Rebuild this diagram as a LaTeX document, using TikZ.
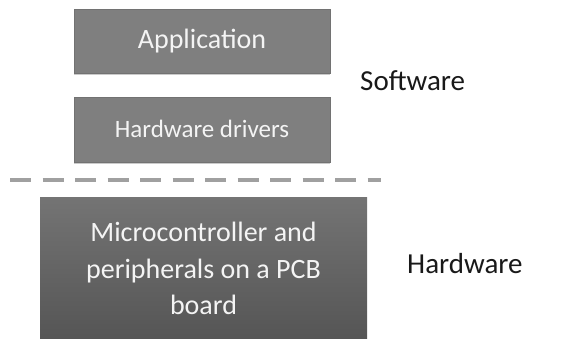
\documentclass[tikz,border=0pt]{standalone}
\usepackage{fontspec}
\setmainfont{Carlito}
\usetikzlibrary{shadows}
\definecolor{boxgray}{HTML}{7F7F7F}
\definecolor{dashgray}{HTML}{A0A0A0}
\definecolor{txtwhite}{HTML}{F4F4F4}
\definecolor{hwtop}{HTML}{747474}
\definecolor{hwbot}{HTML}{555555}
\tikzset{
  swbox/.style={rectangle, fill=boxgray, draw=boxgray!90!black, line width=0.4pt,
    minimum width=256pt, inner sep=0pt, text=txtwhite,
    drop shadow={shadow xshift=0pt, shadow yshift=-2pt, opacity=0.35, fill=black!60}},
  hwbox/.style={rectangle, top color=hwtop, bottom color=hwbot, draw=none,
    minimum width=327pt, inner sep=0pt, text=txtwhite, align=center},
  lbl/.style={text=black!90, font=\fontsize{29}{34}\selectfont, inner sep=0pt},
  sep/.style={dashgray, line width=4pt, dash pattern=on 21pt off 11.5pt}
}
\begin{document}
\begin{tikzpicture}[x=1pt,y=-1pt]
\useasboundingbox (0,0) rectangle (569,338);
\node[swbox, minimum height=64pt, font=\fontsize{28}{33}\selectfont] (app) at (202,41.3) {Application};
\node[swbox, minimum height=65pt, font=\fontsize{25}{30}\selectfont] (drv) at (202,129.2) {Hardware drivers};
\coordinate (d1) at (10,180);
\coordinate (d2) at (381,180);
\draw[sep] (d1) -- (d2);
\node[hwbox, minimum height=143pt, font=\fontsize{28}{36.3}\selectfont] (mcu) at (203.5,268.5)
  {Microcontroller and\\peripherals on a PCB\\board};
\node[lbl, anchor=base west] (sw) at (360,90) {Software};
\node[lbl, anchor=base west] (hw) at (407,273) {Hardware};
\end{tikzpicture}
\end{document}
